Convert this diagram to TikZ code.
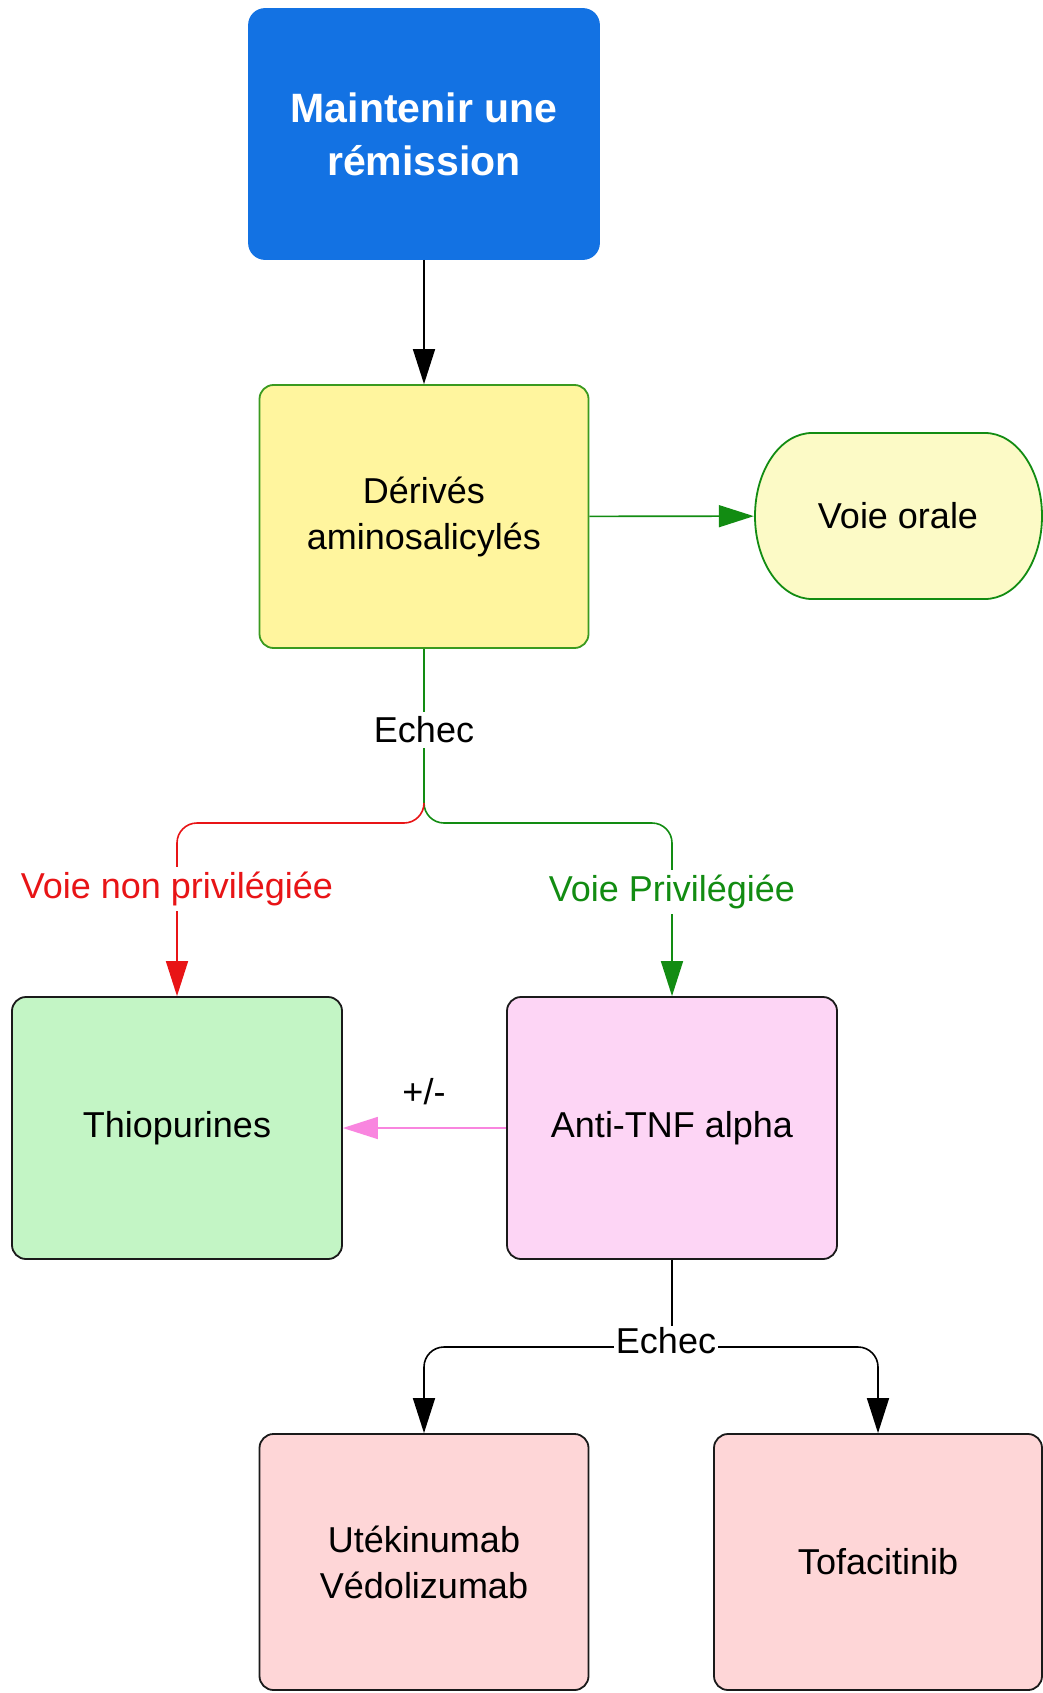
\documentclass[tikz,border=0pt]{standalone}
\usepackage{fontspec}
\setmainfont{Liberation Sans}
\usetikzlibrary{arrows.meta}
\definecolor{cblue}{HTML}{1372E3}
\definecolor{cyel}{HTML}{FFF59E}
\definecolor{cyel2}{HTML}{FCFAC6}
\definecolor{cgreenfill}{HTML}{C3F5C5}
\definecolor{cpinkfill}{HTML}{FDD5F5}
\definecolor{crosefill}{HTML}{FED6D7}
\definecolor{cred}{HTML}{E81416}
\definecolor{cgreen}{HTML}{128C12}
\definecolor{cborder}{HTML}{3A9A1F}
\definecolor{cpink}{HTML}{F985DF}
\definecolor{cdark}{HTML}{1A1A1A}
\tikzset{
  bodyfont/.style={font=\fontsize{36}{46}\selectfont},
  box/.style={rectangle, rounded corners=14pt, line width=1.8pt, align=center, inner sep=0pt, bodyfont},
  tip/.style={-{Triangle[length=35pt,width=22pt]}},
  conn/.style={line width=1.6pt},
  lbl/.style={fill=white, inner sep=5pt, bodyfont},
}
\begin{document}
\begin{tikzpicture}[x=1pt,y=-1pt]
\useasboundingbox[fill=white] (0,0) rectangle (1043,1693);
% nodes
\node[box, fill=cblue, draw=cblue, rounded corners=16pt, text=white,
      font=\fontsize{41}{53}\selectfont\bfseries,
      minimum width=350pt, minimum height=250pt] (top) at (424,134) {Maintenir une\\rémission};
\node[box, fill=cyel, draw=cborder, minimum width=329pt, minimum height=263pt] (der) at (424,516.5) {Dérivés\\aminosalicylés};
% stadium outline for Voie orale
\filldraw[fill=cyel2, draw=cgreen, line width=1.8pt]
  (812,433) -- (985,433)
  arc[start angle=90, end angle=-90, x radius=57pt, y radius=83pt]
  -- (812,599)
  arc[start angle=270, end angle=90, x radius=57pt, y radius=83pt] -- cycle;
\node[rectangle, minimum width=288pt, minimum height=166pt, inner sep=0pt, bodyfont] (orale) at (898,516) {Voie orale};
\node[box, fill=cgreenfill, draw=cdark, minimum width=330pt, minimum height=262pt] (thio) at (177,1128) {Thiopurines};
\node[box, fill=cpinkfill, draw=cdark, minimum width=330pt, minimum height=262pt] (anti) at (672,1128) {Anti-TNF alpha};
\node[box, fill=crosefill, draw=cdark, minimum width=329pt, minimum height=256pt] (ute) at (424,1562) {Utékinumab\\Védolizumab};
\node[box, fill=crosefill, draw=cdark, minimum width=328pt, minimum height=256pt] (tofa) at (878,1562) {Tofacitinib};
% coordinates
\coordinate (j1) at (424,823);
\coordinate (j1r) at (424,803);
\coordinate (j2) at (672,1347);
% connectors
\draw[conn, tip] (top) -- (der);
\draw[conn, tip, cgreen] (der) -- (orale);
\draw[conn, cgreen, tip, rounded corners=20pt] (der.south) -- (j1) -| (anti.north);
\draw[conn, cred, tip, rounded corners=20pt] (j1r) -- (j1) -| (thio.north);
\draw[conn, cpink, tip] (anti) -- (thio);
\draw[conn] (anti.south) -- (j2);
\draw[conn, tip, rounded corners=20pt] (j2) -| (ute.north);
\draw[conn, tip, rounded corners=20pt] (j2) -| (tofa.north);
% labels
\node[lbl] (e1) at (424,730) {Echec};
\node[lbl, text=cred] (l1) at (177,889) {Voie non privilégiée};
\node[lbl, text=cgreen] (l2) at (672,892) {Voie Privilégiée};
\node[bodyfont] (pm) at (424,1092) {+/-};
\node[lbl, inner sep=2pt] (e2) at (666,1341) {Echec};
\end{tikzpicture}
\end{document}
